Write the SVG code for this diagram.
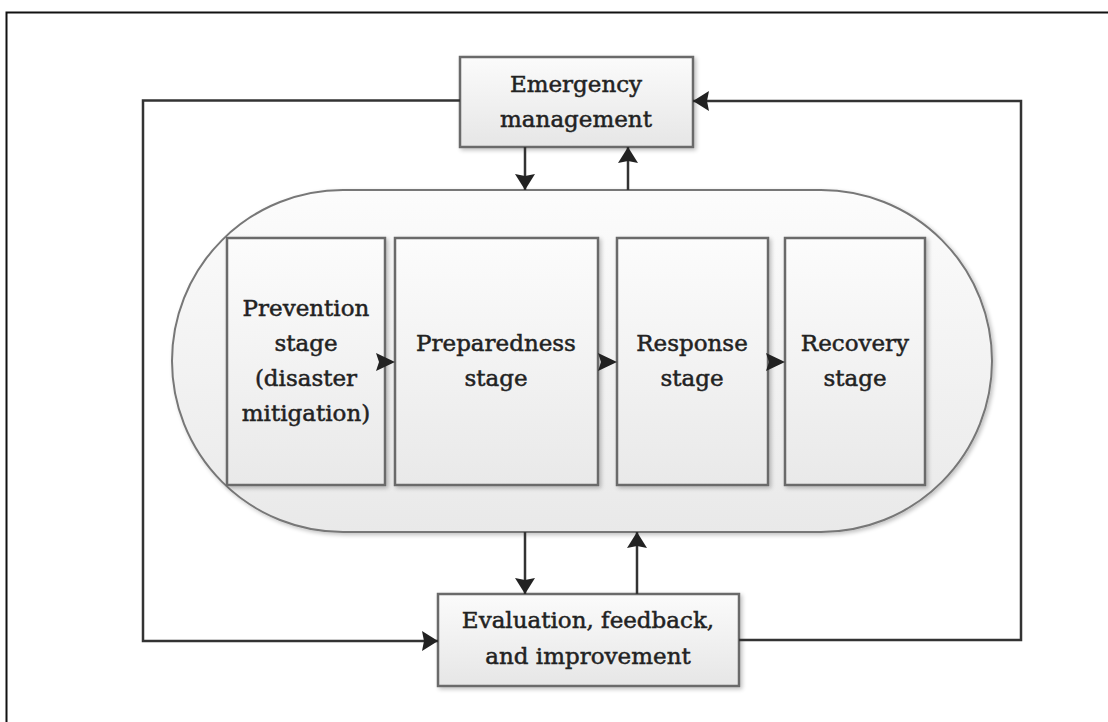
<svg xmlns="http://www.w3.org/2000/svg" width="1108" height="722" viewBox="0 0 1108 722">
<defs>
<linearGradient id="g" x1="0" y1="0" x2="0" y2="1">
<stop offset="0" stop-color="#fbfbfb"/>
<stop offset="1" stop-color="#e6e6e6"/>
</linearGradient>
<linearGradient id="gs" x1="0" y1="0" x2="0" y2="1">
<stop offset="0" stop-color="#fcfcfc"/>
<stop offset="1" stop-color="#e9e9e9"/>
</linearGradient>
<filter id="sh" x="-10%" y="-10%" width="130%" height="130%">
<feGaussianBlur in="SourceAlpha" stdDeviation="2"/>
<feOffset dx="2" dy="2" result="b"/>
<feComponentTransfer><feFuncA type="linear" slope="0.25"/></feComponentTransfer>
<feMerge><feMergeNode/><feMergeNode in="SourceGraphic"/></feMerge>
</filter>
<marker id="ah" viewBox="0 0 16 20" refX="16" refY="10" markerWidth="6.4" markerHeight="8" markerUnits="strokeWidth" orient="auto">
<path d="M0,0 L16,10 L0,20 L2,10 Z" fill="#222"/>
</marker>
</defs>
<style>
.box{fill:url(#g);stroke:#6a6a6a;stroke-width:2.5;filter:url(#sh)}
.stage{fill:url(#gs);stroke:#6a6a6a;stroke-width:2.5;filter:url(#sh)}
.t{font-family:"DejaVu Serif","Liberation Serif",serif;font-size:23px;fill:#222;stroke:#222;stroke-width:0.5;text-anchor:middle}
.c{fill:none;stroke:#333;stroke-width:2.5}
.ca{fill:none;stroke:#333;stroke-width:2.5;marker-end:url(#ah)}
.tip{fill:#222}
</style>
<rect x="6.5" y="12.5" width="1200" height="800" fill="none" stroke="#111" stroke-width="2"/>

<g id="cycle">
<rect x="172" y="190" width="820" height="342" rx="171" ry="171" fill="url(#gs)" stroke="#777" stroke-width="2" filter="url(#sh)"/>
</g>

<g id="emergency">
<rect class="box" x="460" y="57" width="233" height="90"/>
<text class="t" x="576" y="92">Emergency</text>
<text class="t" x="576" y="127">management</text>
</g>

<g id="evaluation">
<rect class="box" x="438" y="594" width="301" height="92"/>
<text class="t" x="588" y="628">Evaluation, feedback,</text>
<text class="t" x="588" y="664">and improvement</text>
</g>

<g id="prevention">
<rect class="stage" x="227" y="238" width="158" height="247"/>
<text class="t" x="306" y="316">Prevention</text>
<text class="t" x="306" y="351">stage</text>
<text class="t" x="306" y="386">(disaster</text>
<text class="t" x="306" y="421">mitigation)</text>
</g>

<g id="preparedness">
<rect class="stage" x="395" y="238" width="203" height="247"/>
<text class="t" x="496" y="351">Preparedness</text>
<text class="t" x="496" y="386">stage</text>
</g>

<g id="response">
<rect class="stage" x="617" y="238" width="151" height="247"/>
<text class="t" x="692" y="351">Response</text>
<text class="t" x="692" y="386">stage</text>
</g>

<g id="recovery">
<rect class="stage" x="785" y="238" width="140" height="247"/>
<text class="t" x="855" y="351">Recovery</text>
<text class="t" x="855" y="386">stage</text>
</g>

<g id="connectors">
<path class="ca" d="M525,147 V190"/>
<path class="ca" d="M628,190 V147"/>
<path class="ca" d="M525,532 V594"/>
<path class="ca" d="M637,594 V532"/>
<path class="ca" d="M460,100.5 H143 V641 H438"/>
<path class="ca" d="M739,640 H1021 V101 H693"/>
<path class="tip" d="M376,353 L395,362 L376,371 L379,362 Z"/>
<path class="tip" d="M598,353 L617,362 L598,371 L601,362 Z"/>
<path class="tip" d="M766,353 L785,362 L766,371 L769,362 Z"/>
</g>
</svg>
